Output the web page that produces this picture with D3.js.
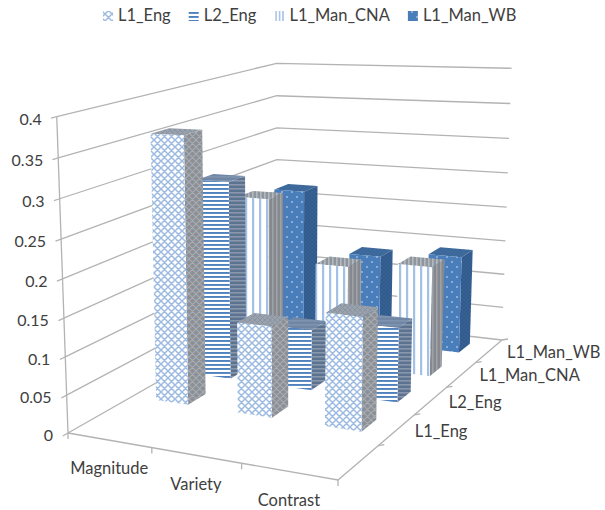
<!DOCTYPE html>
<html>
<head>
<meta charset="utf-8">
<script src="https://cdn.jsdelivr.net/npm/d3@7"></script>
<style>
  html, body { margin: 0; padding: 0; background: #fff; }
  text { font-family: Lato, Carlito, sans-serif; fill: #404040; }
</style>
</head>
<body>
<div id="chart"></div>
<script>
// 3D clustered columns: Excel style perspective box, projected by hand onto the svg
const categories = ['Magnitude', 'Variety', 'Contrast'];
const seriesNames = ['L1_Eng', 'L2_Eng', 'L1_Man_CNA', 'L1_Man_WB'];
// the depth axis has one more, empty band in front of the first series
const depthBands = ['', 'L1_Eng', 'L2_Eng', 'L1_Man_CNA', 'L1_Man_WB'];
const valueTicks = [0, 0.05, 0.1, 0.15, 0.2, 0.25, 0.3, 0.35, 0.4];

const l1Eng = [0.358, 0.121, 0.147];
const l2Eng = [0.277, 0.084, 0.101];
const l1ManCna = [0.231, 0.143, 0.154];
const l1ManWb = [0.22, 0.131, 0.141];
const seriesValues = [l1Eng, l2Eng, l1ManCna, l1ManWb];

const width = 605, height = 510;
const svg = d3.select('#chart').append('svg').attr('width', width).attr('height', height);
const defs = svg.append('defs');

// ─── Projection ─────────────────────────────────────────────

// box corners as seen in the picture: floor, then the three visible top corners
const floorCorners = [
  { u: 0, v: 0, x: 68, y: 433 },
  { u: 1, v: 0, x: 338, y: 480 },
  { u: 1, v: 1, x: 502, y: 340 },
  { u: 0, v: 1, x: 277, y: 314 }
];
const topCorners = [
  { u: 0, v: 0, x: 57, y: 119 },
  { u: 0, v: 1, x: 277, y: 58 },
  { u: 1, v: 1, x: 511, y: 72 }
];

function solve(A, b) {
  const n = b.length;
  const m = A.map((row, i) => [...row, b[i]]);
  for (let c = 0; c < n; c++) {
    let p = c;
    for (let r = c + 1; r < n; r++) if (Math.abs(m[r][c]) > Math.abs(m[p][c])) p = r;
    [m[c], m[p]] = [m[p], m[c]];
    for (let r = 0; r < n; r++) {
      if (r === c) continue;
      const f = m[r][c] / m[c][c];
      for (let k = c; k <= n; k++) m[r][k] -= f * m[c][k];
    }
  }
  return m.map((row, i) => row[n] / row[i]);
}

// floor homography
const rowsA = [], rowsB = [];
for (const p of floorCorners) {
  rowsA.push([p.u, p.v, 1, 0, 0, 0, -p.x * p.u, -p.x * p.v]); rowsB.push(p.x);
  rowsA.push([0, 0, 0, p.u, p.v, 1, -p.y * p.u, -p.y * p.v]); rowsB.push(p.y);
}
const h = solve(rowsA, rowsB);
const floorH = (u, v) => [
  h[0] * u + h[1] * v + h[2],
  h[3] * u + h[4] * v + h[5],
  h[6] * u + h[7] * v + 1
];

// height column of the projection, least squares on the top corners
const zA = [], zB = [];
for (const p of topCorners) {
  const [X, Y, W] = floorH(p.u, p.v);
  zA.push([1, 0, -p.x]); zB.push(p.x * W - X);
  zA.push([0, 1, -p.y]); zB.push(p.y * W - Y);
}
const ata = [0, 1, 2].map(i => [0, 1, 2].map(j => d3.sum(zA, r => r[i] * r[j])));
const atb = [0, 1, 2].map(i => d3.sum(zA, (r, k) => r[i] * zB[k]));
const [za, zb, zc] = solve(ata, atb);

function project(u, v, z) {
  const [X, Y, W] = floorH(u, v);
  const w = W + z * zc;
  return [(X + z * za) / w, (Y + z * zb) / w];
}

const uScale = d3.scaleBand().domain(categories).range([0, 1]).paddingInner(0.6).paddingOuter(0.3);
const vScale = d3.scaleBand().domain(depthBands).range([0, 1]).paddingInner(0.6).paddingOuter(0.3);
const zScale = d3.scaleLinear().domain([0, 0.4]).range([0, 1]);

const uStep = uScale.step(), vStep = vScale.step();
const uCenter = c => uScale(c) + uScale.bandwidth() / 2;
const vCenter = s => vScale(s) + vScale.bandwidth() / 2;

// ─── Patterns ───────────────────────────────────────────────

function pattern(id, size, bg, draw) {
  const p = defs.append('pattern').attr('id', id)
    .attr('patternUnits', 'userSpaceOnUse').attr('width', size).attr('height', size);
  p.append('rect').attr('width', size).attr('height', size).attr('fill', bg);
  draw(p);
}
const lattice = (color, sw) => p => {
  const s = +p.attr('width');
  p.append('path')
    .attr('d', `M0,0L${s},${s}M${s},0L0,${s}M${-s / 2},${s / 2}L${s / 2},${-s / 2}`)
    .attr('stroke', color).attr('stroke-width', sw).attr('fill', 'none');
};
const hLines = (color, sw) => p => {
  p.append('rect').attr('width', p.attr('width')).attr('height', sw).attr('fill', color);
};
const vLines = (color, sw) => p => {
  p.append('rect').attr('width', sw).attr('height', p.attr('height')).attr('fill', color);
};
const dots = color => p => {
  p.append('circle').attr('cx', 2).attr('cy', 2).attr('r', 0.9).attr('fill', color);
  p.append('circle').attr('cx', 7).attr('cy', 7).attr('r', 0.9).attr('fill', color);
};

pattern('l1-front', 7, '#ffffff', lattice('#9dbbe2', 1.5));
pattern('l1-side', 7, '#8b8f96', lattice('#a9adb3', 1.1));
pattern('l1-top', 5, '#9aa2ad', lattice('#8a93a0', 1));
pattern('l2-front', 4, '#ffffff', hLines('#4f81bd', 1.9));
pattern('l2-side', 4, '#5b7290', hLines('#8897ab', 1.6));
pattern('l2-top', 4, '#6f86a5', hLines('#7e93ae', 1.6));
pattern('cna-front', 7, '#ffffff', vLines('#a3c0e6', 2.2));
pattern('cna-legend', 3.4, '#ffffff', vLines('#a3c0e6', 1.5));
pattern('cna-side', 4, '#85898f', vLines('#9ea2a7', 1.6));
pattern('cna-top', 4, '#8f959d', vLines('#b4b9c0', 1.6));
pattern('wb-front', 10, '#4a7ebb', dots('#a7c3e6'));
pattern('wb-side', 4, '#305a8c', lattice('#3a6496', 0.8));
pattern('wb-top', 4, '#3a6699', lattice('#426e9f', 0.8));
const seriesPatterns = ['l1', 'l2', 'cna', 'wb'];
const legendPatterns = ['l1-front', 'l2-front', 'cna-legend', 'wb-front'];

// ─── Walls, floor, axes ─────────────────────────────────────

const line = pts => 'M' + pts.map(p => p.map(n => n.toFixed(2)).join(',')).join('L');
const gridColor = '#b3b3b3';
const grid = svg.append('g').attr('fill', 'none').attr('stroke', gridColor).attr('stroke-width', 1.3);

for (const t of valueTicks) {
  const z = zScale(t);
  grid.append('path').attr('d', line([project(0, 0, z), project(0, 1, z), project(1, 1, z)]));
  // tick on the value axis
  const a = project(0, 0, z), b = project(0, 1, z);
  const len = Math.hypot(b[0] - a[0], b[1] - a[1]);
  const tx = a[0] - 6 * (b[0] - a[0]) / len, ty = a[1] - 6 * (b[1] - a[1]) / len;
  grid.append('path').attr('d', line([a, [tx, ty]]));
  svg.append('text')
    .attr('x', a[0] - 15).attr('y', a[1] + 3)
    .attr('dy', '0.32em').attr('text-anchor', 'end').attr('font-size', 16)
    .text(d3.format('.2~f')(t));
}
grid.append('path').attr('d', line([project(0, 0, 0), project(0, 0, 1)]));
grid.append('path').attr('d', line([project(0, 0, 0), project(1, 0, 0), project(1, 1, 0)]));

categories.forEach((c, i) => {
  for (const u of i === 0 ? [0, uStep] : [(i + 1) * uStep]) {
    const p = project(u, 0, 0);
    grid.append('path').attr('d', line([p, [p[0], p[1] + 6]]));
  }
  const m = project(uCenter(c), 0, 0);
  svg.append('text').attr('x', m[0]).attr('y', m[1] + 29)
    .attr('dy', '0.32em').attr('text-anchor', 'middle').attr('font-size', 16.5).text(c);
});

depthBands.forEach((s, j) => {
  const p = project(1, (j + 1) * vStep, 0);
  grid.append('path').attr('d', line([p, [p[0] + 6, p[1] - 1]]));
  if (!s) return;
  const m = project(1, vCenter(s), 0);
  svg.append('text').attr('x', m[0] + 18).attr('y', m[1] + 1.5)
    .attr('dy', '0.32em').attr('font-size', 16.5).text(s);
});

// ─── Bars, back to front ────────────────────────────────────

const bars = svg.append('g');
d3.range(seriesNames.length - 1, -1, -1).forEach(j => {
  categories.forEach((c, i) => {
    const key = seriesPatterns[j];
    const u0 = uScale(c), u1 = u0 + uScale.bandwidth();
    const v0 = vScale(seriesNames[j]), v1 = v0 + vScale.bandwidth();
    const z = zScale(seriesValues[j][i]);
    const g = bars.append('g');
    g.append('path').attr('fill', `url(#${key}-top)`)
      .attr('d', line([project(u0, v0, z), project(u1, v0, z), project(u1, v1, z), project(u0, v1, z)]) + 'Z');
    g.append('path').attr('fill', `url(#${key}-side)`)
      .attr('d', line([project(u1, v0, 0), project(u1, v1, 0), project(u1, v1, z), project(u1, v0, z)]) + 'Z');
    g.append('path').attr('fill', `url(#${key}-front)`)
      .attr('d', line([project(u0, v0, 0), project(u1, v0, 0), project(u1, v0, z), project(u0, v0, z)]) + 'Z');
  });
});

// ─── Legend ─────────────────────────────────────────────────

let legendX = 103;
seriesNames.forEach((s, j) => {
  svg.append('rect').attr('x', legendX).attr('y', 11).attr('width', 10).attr('height', 10)
    .attr('fill', `url(#${legendPatterns[j]})`);
  const t = svg.append('text').attr('x', legendX + 15).attr('y', 16)
    .attr('dy', '0.32em').attr('font-size', 16.5).text(s);
  legendX += 15 + t.node().getComputedTextLength() + 18;
});
</script>
</body>
</html>
